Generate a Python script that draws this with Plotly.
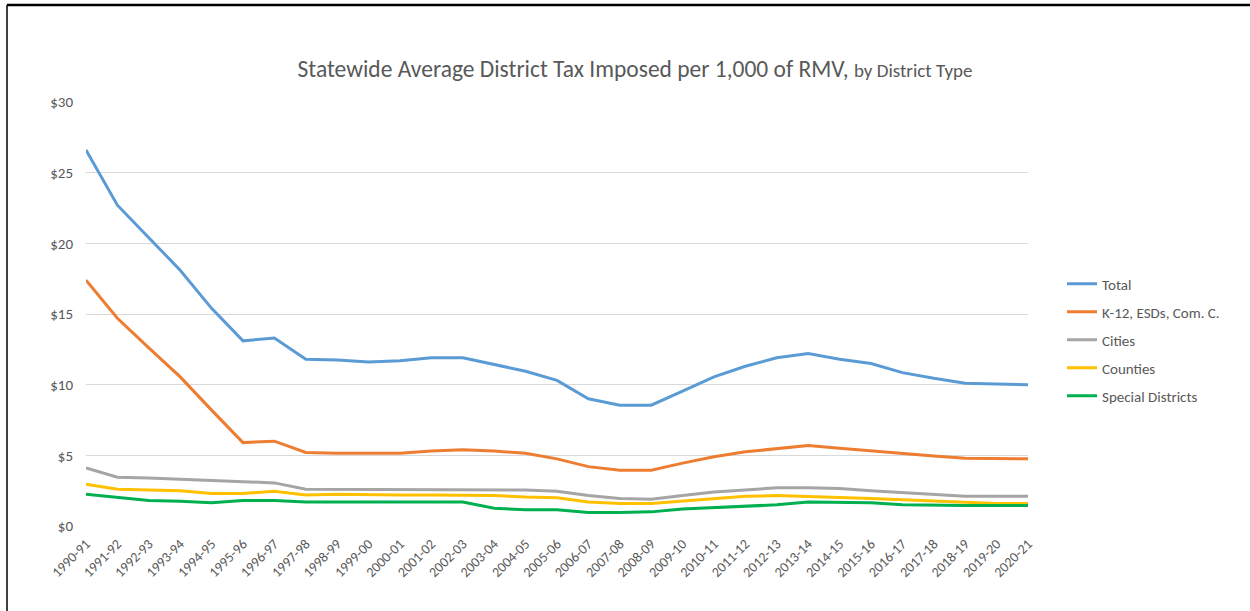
import plotly.graph_objects as go

years = ["1990-91", "1991-92", "1992-93", "1993-94", "1994-95", "1995-96", "1996-97", "1997-98",
         "1998-99", "1999-00", "2000-01", "2001-02", "2002-03", "2003-04", "2004-05", "2005-06",
         "2006-07", "2007-08", "2008-09", "2009-10", "2010-11", "2011-12", "2012-13", "2013-14",
         "2014-15", "2015-16", "2016-17", "2017-18", "2018-19", "2019-20", "2020-21"]

total = [26.6, 22.7, 20.4, 18.1, 15.4, 13.1, 13.3, 11.8, 11.75, 11.6, 11.7, 11.9, 11.9, 11.45,
         10.95, 10.3, 9.0, 8.55, 8.55, 9.55, 10.55, 11.3, 11.9, 12.2, 11.8, 11.5, 10.85, 10.45,
         10.1, 10.05, 10.0]
k12 = [17.4, 14.7, 12.6, 10.55, 8.2, 5.9, 6.0, 5.2, 5.15, 5.15, 5.15, 5.3, 5.4, 5.3, 5.15,
       4.75, 4.2, 3.95, 3.95, 4.45, 4.9, 5.25, 5.5, 5.7, 5.5, 5.3, 5.1, 4.95, 4.8, 4.75, 4.75]
cities = [4.1, 3.45, 3.4, 3.3, 3.2, 3.15, 3.05, 2.6, 2.6, 2.6, 2.55, 2.55, 2.55, 2.6, 2.55,
          2.45, 2.15, 1.95, 1.9, 2.15, 2.4, 2.55, 2.7, 2.7, 2.65, 2.5, 2.35, 2.25, 2.1, 2.1, 2.1]
counties = [2.95, 2.6, 2.55, 2.5, 2.3, 2.3, 2.45, 2.2, 2.25, 2.2, 2.2, 2.2, 2.2, 2.15, 2.05,
            2.0, 1.7, 1.6, 1.6, 1.75, 1.9, 2.1, 2.15, 2.1, 2.05, 1.95, 1.85, 1.75, 1.65, 1.6, 1.6]
special = [2.25, 2.0, 1.8, 1.75, 1.65, 1.8, 1.8, 1.7, 1.7, 1.7, 1.7, 1.7, 1.7, 1.25, 1.15,
           1.15, 0.95, 0.95, 1.0, 1.2, 1.3, 1.4, 1.5, 1.7, 1.65, 1.65, 1.5, 1.45, 1.45, 1.45, 1.45]

series_names = ["Total", "K-12, ESDs, Com. C.", "Cities", "Counties", "Special Districts"]
series_values = [total, k12, cities, counties, special]
series_colors = ["#5B9BD5", "#ED7D31", "#A5A5A5", "#FFC000", "#00B050"]

FONT = "Calibri, Carlito, Lato, sans-serif"

fig = go.Figure()
for i, (name, vals, col) in enumerate(zip(series_names, series_values, series_colors)):
    fig.add_trace(go.Scatter(x=years, y=vals, name=name, mode="lines",
                             line=dict(color=col, width=3), legendgroup=str(i)))

W, H = 1250, 611
L, R, T, B = 86, 222, 102, 85
pw, ph = W - L - R, H - T - B

def px(xp):
    return (xp - L) / pw

def py(yp):
    return (H - B - yp) / ph

fig.update_layout(
    width=W, height=H,
    margin=dict(l=L, r=R, t=T, b=B),
    paper_bgcolor="white", plot_bgcolor="white",
    font=dict(family=FONT, color="#595959", size=12),
    title=dict(
        text="Statewide Average District Tax Imposed per 1,000 of RMV, <span style='font-size:19px'>by District Type</span>",
        font=dict(size=23.5, color="#595959", family=FONT),
        x=635 / W, xanchor="center", xref="container",
        y=1 - 69 / H, yanchor="middle", yref="container"),
    showlegend=True,
    legend=dict(x=px(1062), xanchor="left", y=py(340), yanchor="middle",
                font=dict(size=15, color="#595959", family=FONT),
                tracegroupgap=5.5, itemwidth=30, bgcolor="rgba(0,0,0,0)"),
    xaxis=dict(type="category", range=[0, 30], tickangle=-45, showgrid=False,
               showline=False, zeroline=False, ticks="", ticklabelstandoff=6,
               tickfont=dict(size=14, color="#595959")),
    yaxis=dict(range=[0, 30], dtick=5, tickprefix="$", showgrid=True, gridcolor="#D9D9D9",
               gridwidth=1, zeroline=False, showline=False, ticks="", ticklabelstandoff=12,
               tickfont=dict(size=15, color="#595959")),
    shapes=[
        dict(type="line", xref="paper", yref="paper", x0=px(7), x1=px(1250), y0=py(5), y1=py(5),
             line=dict(color="black", width=2.5)),
        dict(type="line", xref="paper", yref="paper", x0=px(7), x1=px(7), y0=py(5), y1=py(611),
             line=dict(color="black", width=1.5)),
    ],
)

fig.write_html("out.html", config={"displayModeBar": False},
               post_script="document.body.style.margin='0';document.body.style.overflow='hidden';")
